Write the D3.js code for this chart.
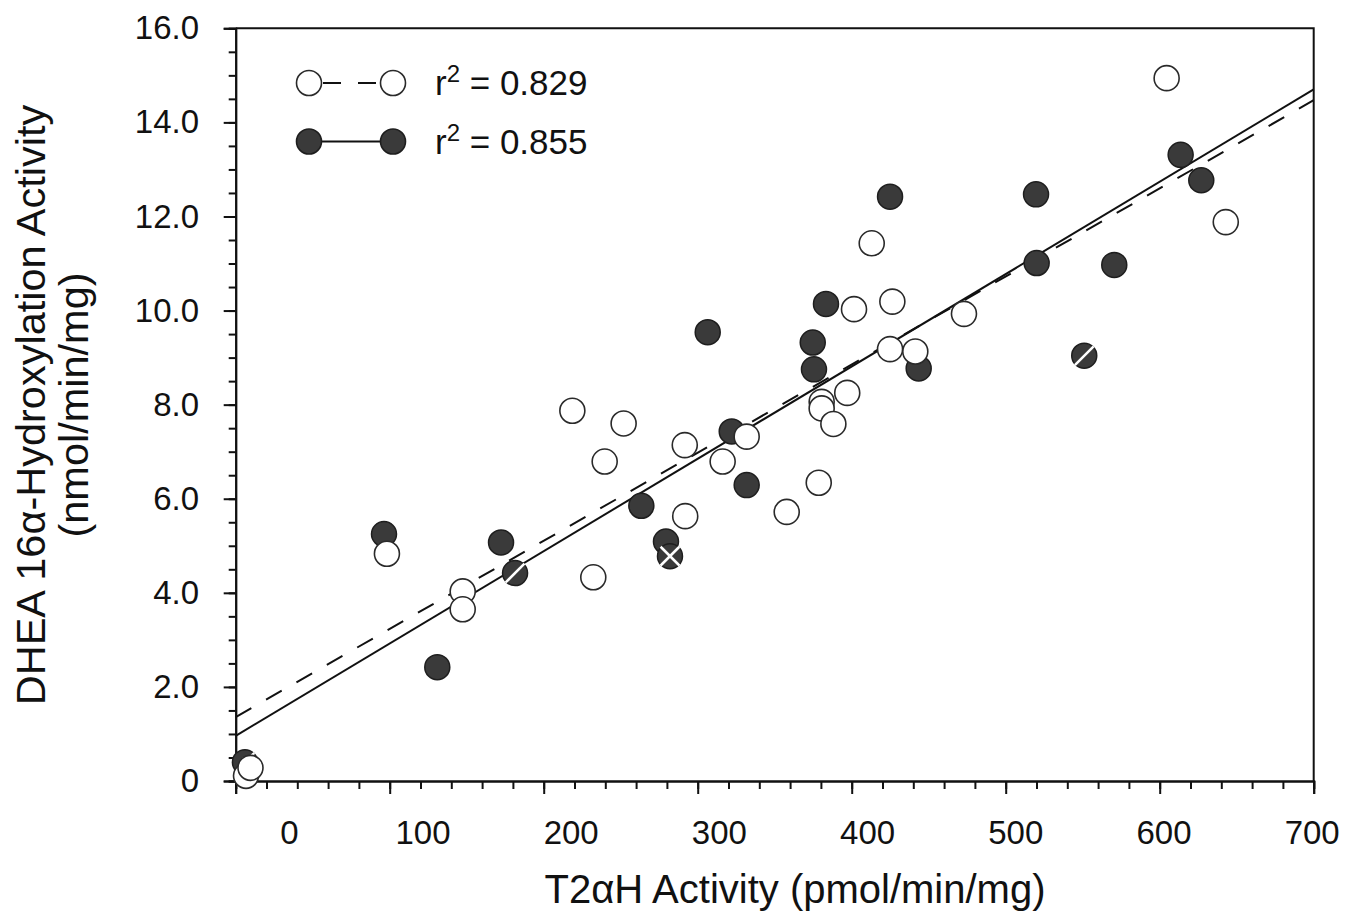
<!DOCTYPE html>
<html>
<head>
<meta charset="utf-8">
<script src="https://cdn.jsdelivr.net/npm/d3@7"></script>
<style>
  body { margin: 0; background: #fff; }
  text { font-family: "Liberation Sans", Arial, Helvetica, sans-serif; fill: #111; }
</style>
</head>
<body>
<div id="chart"></div>
<script>
// open circles (dashed fit)
const openX = [6.7, 9.6, 98.2, 147.4, 147.4, 218.6, 232.2, 239.6, 251.9, 291.6,
  291.9, 316.2, 331.8, 357.8, 378.6, 380.5, 380.5, 388.1, 397.1, 401.5,
  413.0, 424.9, 426.4, 441.3, 472.9, 604.5, 642.9];
const openY = [0.11, 0.28, 4.83, 4.03, 3.65, 7.87, 4.33, 6.79, 7.60, 7.14,
  5.63, 6.79, 7.32, 5.72, 6.34, 8.06, 7.92, 7.59, 8.25, 10.03,
  11.43, 9.18, 10.19, 9.13, 9.93, 14.94, 11.88];

// filled circles (solid fit); mark = white slash or cross drawn on the dot
const filledX = [6.0, 96.3, 130.9, 172.3, 181.4, 263.4, 279.4, 282.0, 306.5, 322.1,
  331.8, 374.7, 375.5, 383.3, 424.9, 443.5, 519.7, 520.1, 551.0, 570.5,
  613.6, 627.0];
const filledY = [0.40, 5.25, 2.42, 5.07, 4.42, 5.85, 5.09, 4.78, 9.54, 7.43,
  6.29, 9.32, 8.75, 10.14, 12.42, 8.77, 12.47, 11.01, 9.04, 10.97,
  13.31, 12.77];
const filledMark = ["/", "", "", "", "/", "", "", "x", "", "",
  "", "", "", "", "", "", "", "", "/", "",
  "", ""];

// regression lines
const fitNames = ["open", "filled"];
const fitIntercept = [1.36, 0.96];
const fitSlope = [0.01873, 0.01963];
const fitR2 = ["0.829", "0.855"];

const xTicks = [0, 100, 200, 300, 400, 500, 600, 700];
const yTicks = [0, 2, 4, 6, 8, 10, 12, 14, 16];

const svgWidth = 1349;
const svgHeight = 920;

const plot = {left: 235.7, right: 1313.7, top: 28.3, bottom: 781};

const x = d3.scaleLinear().domain([0, 700]).range([plot.left, plot.right]);
// the printed tick numbers sit off the tick marks in the figure
const xLabel = d3.scaleLinear().domain([0, 100, 700]).range([289, 422.5, 1311.7]);
const y = d3.scaleLinear().domain([0, 16]).range([plot.bottom, plot.top]);

const svg = d3.select("#chart")
  .append("svg")
  .attr("width", svgWidth)
  .attr("height", svgHeight);

const axisStyle = function(g) {
  g.selectAll("path, line").attr("stroke", "#111").attr("stroke-width", 2);
  g.selectAll("text").style("font-size", "33px").attr("fill", "#111");
};

// x minor ticks
svg.append("g")
  .attr("transform", `translate(0,${plot.bottom})`)
  .call(d3.axisBottom(x).tickValues(d3.range(0, 701, 20)).tickSize(8).tickFormat(""))
  .call(axisStyle);
// x major ticks
svg.append("g")
  .attr("transform", `translate(0,${plot.bottom})`)
  .call(d3.axisBottom(x).tickValues(xTicks).tickSize(13).tickFormat(""))
  .call(axisStyle);
// x labels
svg.append("g")
  .attr("transform", `translate(0,${plot.bottom})`)
  .call(d3.axisBottom(xLabel).tickValues(xTicks).tickSize(0).tickPadding(40))
  .call(axisStyle)
  .call(g => g.select(".domain").remove());

// y minor ticks
svg.append("g")
  .attr("transform", `translate(${plot.left},0)`)
  .call(d3.axisLeft(y).tickValues(d3.range(0, 16.01, 0.5)).tickSize(7).tickFormat(""))
  .call(axisStyle);
// y major ticks + labels
svg.append("g")
  .attr("transform", `translate(${plot.left},0)`)
  .call(d3.axisLeft(y).tickValues(yTicks).tickSize(12).tickPadding(24.7)
    .tickFormat(d => d === 0 ? "0" : d3.format(".1f")(d)))
  .call(axisStyle);

// top and right frame
svg.append("path")
  .attr("d", `M${x(0)},${y(16)} H${x(700)} V${y(0)}`)
  .attr("fill", "none")
  .attr("stroke", "#111")
  .attr("stroke-width", 2);

// regression lines
const fitLine = d3.line().x(d => x(d[0])).y(d => y(d[1]));
fitNames.forEach(function(name, i) {
  svg.append("path")
    .attr("class", "fit-" + name)
    .attr("d", fitLine([[0, fitIntercept[i]], [700, fitIntercept[i] + fitSlope[i] * 700]]))
    .attr("fill", "none")
    .attr("stroke", "#111")
    .attr("stroke-width", 2)
    .attr("stroke-dasharray", name === "open" ? "18,17" : null);
});

const r = 12.5;

// filled dots
const filled = filledX.map((v, i) => ({x: v, y: filledY[i], mark: filledMark[i]}));
const fg = svg.append("g").selectAll("g")
  .data(filled).enter()
  .append("g")
  .attr("transform", d => `translate(${x(d.x)},${y(d.y)})`);
fg.append("circle")
  .attr("r", r)
  .attr("fill", "#3a3a3a")
  .attr("stroke", "#1e1e1e")
  .attr("stroke-width", 1.5);
fg.filter(d => d.mark !== "")
  .append("line")
  .attr("x1", -0.75 * r).attr("y1", 0.75 * r)
  .attr("x2", 0.75 * r).attr("y2", -0.75 * r)
  .attr("stroke", "#fff").attr("stroke-width", 2.5);
fg.filter(d => d.mark === "x")
  .append("line")
  .attr("x1", -0.75 * r).attr("y1", -0.75 * r)
  .attr("x2", 0.75 * r).attr("y2", 0.75 * r)
  .attr("stroke", "#fff").attr("stroke-width", 2.5);

// open dots
const open = openX.map((v, i) => ({x: v, y: openY[i]}));
svg.append("g").selectAll("circle")
  .data(open).enter()
  .append("circle")
  .attr("cx", d => x(d.x))
  .attr("cy", d => y(d.y))
  .attr("r", r)
  .attr("fill", "#fff")
  .attr("stroke", "#2a2a2a")
  .attr("stroke-width", 1.6);

// legend
const legend = svg.append("g").attr("transform", "translate(309,83)");
fitNames.forEach(function(name, i) {
  const row = legend.append("g").attr("transform", `translate(0,${i * 58.5})`);
  row.append("line")
    .attr("x1", name === "open" ? 14 : 0).attr("x2", 84)
    .attr("stroke", "#111").attr("stroke-width", 2)
    .attr("stroke-dasharray", name === "open" ? "18,17" : null);
  [0, 84].forEach(function(cx) {
    row.append("circle")
      .attr("cx", cx).attr("r", r)
      .attr("fill", name === "open" ? "#fff" : "#3a3a3a")
      .attr("stroke", name === "open" ? "#2a2a2a" : "#1e1e1e")
      .attr("stroke-width", 1.6);
  });
  const t = row.append("text")
    .attr("x", 126).attr("y", 12)
    .style("font-size", "35px");
  t.append("tspan").text("r");
  t.append("tspan").attr("dy", -13).style("font-size", "24px").text("2");
  t.append("tspan").attr("dy", 13).text(" = " + fitR2[i]);
});

// axis titles
svg.append("text")
  .attr("x", 795).attr("y", 903)
  .attr("text-anchor", "middle")
  .style("font-size", "40px")
  .text("T2αH Activity (pmol/min/mg)");

svg.append("text")
  .attr("transform", "translate(45,405) rotate(-90)")
  .attr("text-anchor", "middle")
  .style("font-size", "41.5px")
  .text("DHEA 16α-Hydroxylation Activity");
svg.append("text")
  .attr("transform", "translate(88,405) rotate(-90)")
  .attr("text-anchor", "middle")
  .style("font-size", "41.5px")
  .text("(nmol/min/mg)");
</script>
</body>
</html>
